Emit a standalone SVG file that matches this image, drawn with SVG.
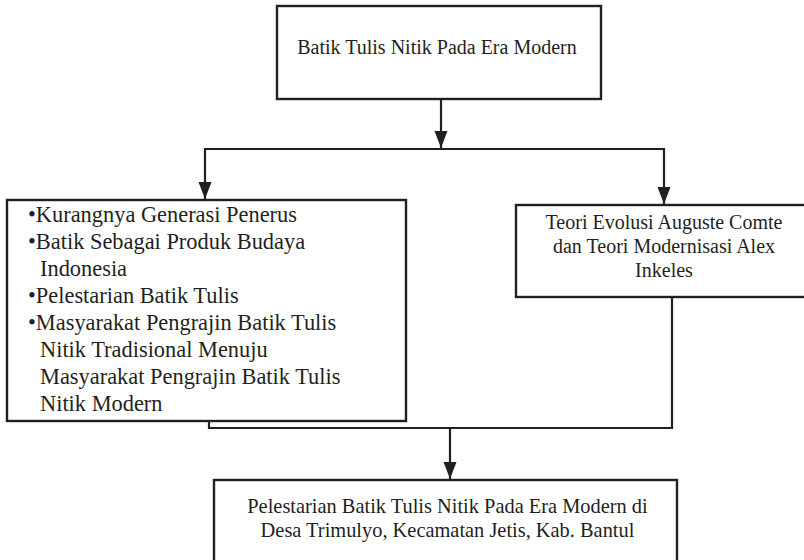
<svg xmlns="http://www.w3.org/2000/svg" width="804" height="560" viewBox="0 0 804 560">
<style>
.box{fill:#fff;stroke:#231f20;stroke-width:2.4}
.ln{fill:none;stroke:#231f20;stroke-width:2.2}
text{font-family:"Liberation Serif","Times New Roman",serif;font-size:20px;fill:#231f20}
.c{text-anchor:middle}
.big{font-size:22.4px}
.bt{font-size:20.4px}
</style>
<defs>
<marker id="arr" markerUnits="userSpaceOnUse" markerWidth="18" markerHeight="14" viewBox="0 -7 18 14" refX="17" refY="0" orient="auto">
<path d="M0,-6.5 L17,0 L0,6.5 z" fill="#231f20"/>
</marker>
</defs>
<rect width="804" height="560" fill="#fff"/>
<g id="connectors">
<path class="ln" d="M441,99 V148" marker-end="url(#arr)"/>
<path class="ln" d="M441,149 H205 V199" marker-end="url(#arr)"/>
<path class="ln" d="M441,149 H664 V204" marker-end="url(#arr)"/>
<path class="ln" d="M209,421 V428 H672 V297"/>
<path class="ln" d="M450,428 V479" marker-end="url(#arr)"/>
</g>
<g id="node-top">
<rect class="box" x="277" y="6" width="324" height="93"/>
<text class="c" x="437" y="54">Batik Tulis Nitik Pada Era Modern</text>
</g>
<g id="node-left" class="big">
<rect class="box" x="7" y="200" width="399" height="221"/>
<text class="big" x="28" y="222">•Kurangnya Generasi Penerus</text>
<text class="big" x="28" y="249">•Batik Sebagai Produk Budaya</text>
<text class="big" x="40" y="276">Indonesia</text>
<text class="big" x="28" y="303">•Pelestarian Batik Tulis</text>
<text class="big" x="28" y="330">•Masyarakat Pengrajin Batik Tulis</text>
<text class="big" x="40" y="357">Nitik Tradisional Menuju</text>
<text class="big" x="40" y="384">Masyarakat Pengrajin Batik Tulis</text>
<text class="big" x="40" y="411">Nitik Modern</text>
</g>
<g id="node-right">
<rect class="box" x="516" y="205" width="300" height="92"/>
<text class="c" x="664" y="229">Teori Evolusi Auguste Comte</text>
<text class="c" x="664" y="253">dan Teori Modernisasi Alex</text>
<text class="c" x="664" y="277">Inkeles</text>
</g>
<g id="node-bottom">
<rect class="box" x="214" y="480" width="463" height="100"/>
<text class="c bt" x="447.5" y="513">Pelestarian Batik Tulis Nitik Pada Era Modern di</text>
<text class="c bt" x="447.5" y="537">Desa Trimulyo, Kecamatan Jetis, Kab. Bantul</text>
</g>
</svg>
